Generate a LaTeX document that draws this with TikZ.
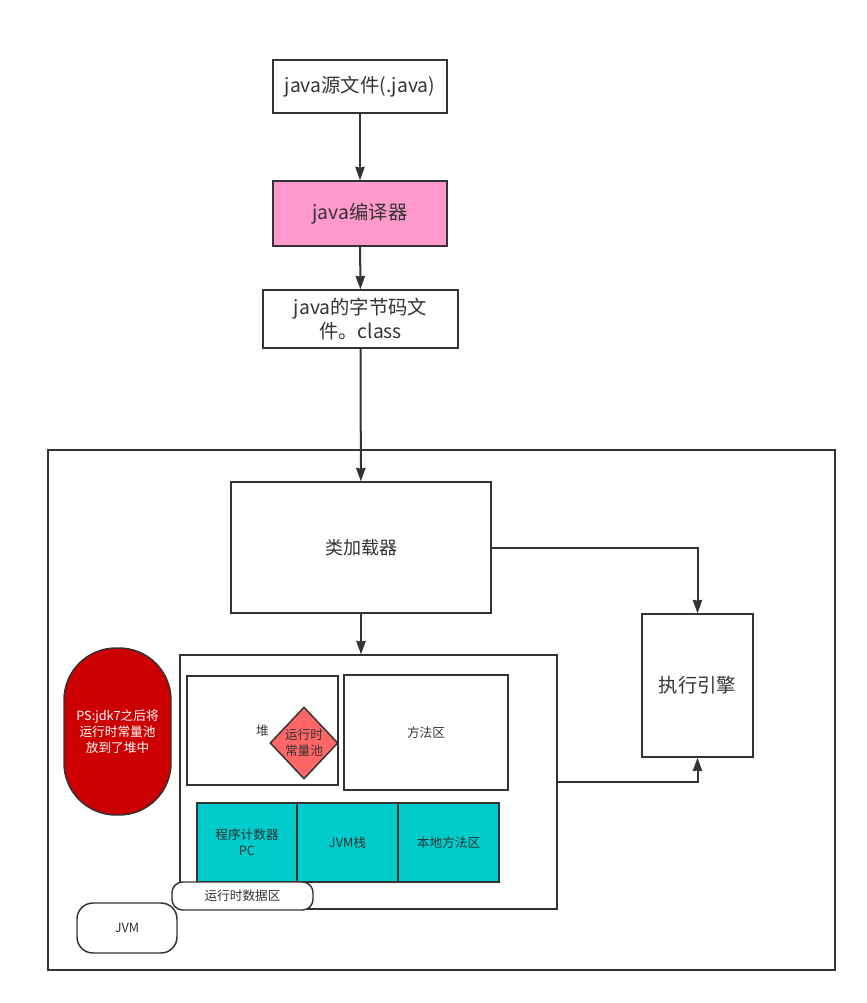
\documentclass[tikz,border=0pt]{standalone}
\usepackage{fontspec}
\setmainfont{Noto Sans CJK SC}
\usetikzlibrary{arrows.meta}
\usetikzlibrary{shapes.geometric}
\definecolor{inkgray}{HTML}{333333}
\definecolor{compink}{HTML}{FF99CC}
\definecolor{poolred}{HTML}{FF6666}
\definecolor{notered}{HTML}{CC0000}
\definecolor{areateal}{HTML}{00CCCC}

\begin{document}
\begin{tikzpicture}[x=0.75pt,y=-0.75pt,>={Stealth[length=10pt,width=7pt,inset=0.5pt]},color=inkgray,line width=1.1pt,
    box/.style={rectangle,draw,line width=1.1pt,inner sep=0pt,align=center,text=inkgray},
    big text/.style={font=\fontsize{14.5pt}{18pt}\selectfont},
    small text/.style={font=\fontsize{9.5pt}{12pt}\selectfont},
    teal node/.style={box,small text,fill=areateal,minimum width=75.5pt,minimum height=59.25pt},
    tag node/.style={box,small text,fill=white,rounded corners=8pt},
    flow/.style={->,draw=inkgray,line width=1.5pt}]
   \useasboundingbox (0,0) rectangle (867,1003);
   \begin{scope}
     % compile chain
     \node[box,big text,minimum width=130.5pt,minimum height=39.75pt] (src) at (360,86.5) {java源文件(.java)};
     \node[box,big text,fill=compink,minimum width=130.5pt,minimum height=48.75pt] (comp) at (360,213.5) {java编译器};
     \node[box,big text,minimum width=146.25pt,minimum height=43.5pt] (cls) at (360.5,319) {java的字节码文\\件。class};

     % jvm
     \node[box,minimum width=590.25pt,minimum height=390pt] (jvm) at (441.5,710) {};
     \node[box,font=\fontsize{13.5pt}{16pt}\selectfont,minimum width=195pt,minimum height=98.25pt] (loader) at (361,547.5) {类加载器};
     \node[box,big text,minimum width=83.25pt,minimum height=107.25pt] (engine) at (697.5,685.5) {执行引擎};

     % runtime data area
     \node[box,minimum width=282.75pt,minimum height=190.5pt] (rda) at (368.5,782) {};
     \node[box,small text,minimum width=113.25pt,minimum height=81.75pt] (heap) at (262.5,730.5) {堆};
     \node[diamond,draw,line width=1.1pt,fill=poolred,small text,text=inkgray,align=center,inner sep=0pt,minimum width=51pt,minimum height=54pt] (pool) at (304,743) {运行时\\常量池};
     \node[box,small text,minimum width=123pt,minimum height=86.25pt] (method) at (426,732.5) {方法区};
     \node[teal node,minimum width=75pt] (pc) at (247,842.5) {程序计数器\\PC};
     \node[teal node] (stack) at (347.5,842.5) {JVM栈};
     \node[teal node] (native) at (448.5,842.5) {本地方法区};
     \node[tag node,minimum width=105.75pt,minimum height=21pt] (rdatag) at (242.5,896) {运行时数据区};
     \node[tag node,rounded corners=12pt,minimum width=75pt,minimum height=37.5pt] (jvmtag) at (127,928) {JVM};
     \node[box,fill=notered,text=white,small text,rounded corners=39pt,minimum width=80.25pt,minimum height=125.25pt] (note) at (117.5,731.5) {PS:jdk7之后将\\运行时常量池\\放到了堆中};

     \draw[flow] (src) -- (comp);
     \draw[flow] (comp) -- (cls);
     \draw[flow] (cls) -- (loader);
     \draw[flow] (loader.south) -- (loader.south |- rda.north);
     \draw[flow] (loader.east) -| (engine.north);
     \draw[flow] (rda.east) -| (engine.south);
   \end{scope}
\end{tikzpicture}
\end{document}
